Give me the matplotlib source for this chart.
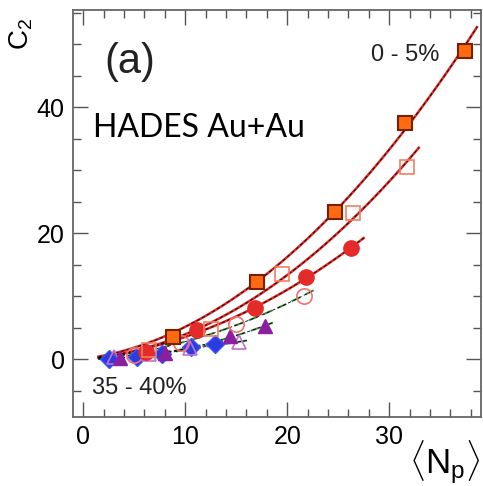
import numpy as np
import matplotlib
matplotlib.use('Agg')
import matplotlib.pyplot as plt
from matplotlib.ticker import MultipleLocator

plt.rcParams['font.family'] = ['Liberation Sans', 'DejaVu Sans']
plt.rcParams['mathtext.fontset'] = 'custom'
plt.rcParams['mathtext.rm'] = 'Liberation Sans'
plt.rcParams['mathtext.it'] = 'Liberation Sans'

# data: <Np> and C2 for each set
sq_x = [8.8, 17.0, 24.7, 31.5, 37.4]
sq_y = [3.5, 12.2, 23.4, 37.5, 49.0]
osq_x = [6.5, 12.5, 19.5, 26.4, 31.7]
osq_y = [1.4, 4.8, 13.5, 23.2, 30.5]
ci_x = [6.2, 11.2, 16.8, 21.8, 26.3]
ci_y = [1.1, 4.6, 8.1, 13.0, 17.6]
oci_x = [5.0, 9.6, 15.0, 21.6]
oci_y = [0.7, 2.6, 5.6, 10.0]
tri_x = [3.6, 8.0, 14.4, 17.8]
tri_y = [0.1, 1.0, 3.6, 5.2]
otri_x = [3.0, 6.5, 10.5, 15.3]
otri_y = [0.3, 0.8, 1.8, 2.7]
dia_x = [2.5, 5.3, 7.7, 10.6, 12.9]
dia_y = [0.0, 0.3, 0.8, 1.9, 2.4]

fig = plt.figure(figsize=(4.83, 4.86), dpi=100)
ax = fig.add_axes([0.151, 0.142, 0.845, 0.837])


def fit_line(x, y, ext, color):
    # fit C2 = a*N + b*N^2 and draw it a bit past the last point
    x = np.asarray(x)
    y = np.asarray(y)
    A = np.vstack([x, x**2]).T
    coef = np.linalg.lstsq(A, y, rcond=None)[0]
    xx = np.linspace(1.5, x.max() + ext, 100)
    yy = coef[0]*xx + coef[1]*xx**2
    if color == 'green':
        ax.plot(xx, yy, color='#3a8a3a', lw=1.4, ls=(0, (5, 3)), zorder=2)
    else:
        ax.plot(xx, yy, color='#e02525', lw=1.8, zorder=2)
    ax.plot(xx, yy, color='black', lw=0.6, ls=(0, (4, 3)), zorder=3)


fit_line(sq_x, sq_y, 1.2, 'red')
fit_line(osq_x, osq_y, 1.2, 'red')
fit_line(ci_x, ci_y, 1.2, 'red')
fit_line(oci_x, oci_y, 1.0, 'green')
fit_line(tri_x, tri_y, 0.8, 'green')
fit_line(otri_x, otri_y, 0.8, 'green')
fit_line(dia_x, dia_y, 0.8, 'green')

ax.plot(dia_x, dia_y, 'D', ms=9, color='#2a3be0', mec='#4050ff', zorder=5)
ax.plot(otri_x, otri_y, '^', ms=10, mfc='none', mec='#c070d0', mew=1.2, zorder=5)
ax.plot(tri_x, tri_y, '^', ms=10, color='#8c1fa0', zorder=5)
ax.plot(oci_x, oci_y, 'o', ms=11, mfc='none', mec='#f07070', mew=1.2, zorder=5)
ax.plot(ci_x, ci_y, 'o', ms=11, color='#e52a2a', zorder=5)
ax.plot(osq_x, osq_y, 's', ms=10, mfc='none', mec='#f08060', mew=1.2, zorder=5)
ax.plot(sq_x, sq_y, 's', ms=10, mfc='#ff6a10', mec='#7a2000', mew=1.5, zorder=6)

ax.set_xlim(-1, 39)
ax.set_ylim(-9.2, 55.4)
ax.xaxis.set_major_locator(MultipleLocator(10))
ax.xaxis.set_minor_locator(MultipleLocator(2))
ax.yaxis.set_major_locator(MultipleLocator(20))
ax.yaxis.set_minor_locator(MultipleLocator(5))
ax.tick_params(which='both', direction='in', top=True, right=True,
               labelsize=18, color='#555555')
ax.tick_params(which='major', length=11, width=1.0, pad=6)
ax.tick_params(which='minor', length=6, width=1.0)
for s in ax.spines.values():
    s.set_color('#666666')
    s.set_linewidth(1.3)

ax.text(0.078, 0.872, '(a)', transform=ax.transAxes, fontsize=30,
        va='center', ha='left', color='#222222')
ax.text(0.048, 0.71, 'HADES Au+Au', transform=ax.transAxes, fontsize=23,
        family=['Lato', 'DejaVu Sans'], va='center', ha='left')
ax.text(0.73, 0.89, '0 - 5%', transform=ax.transAxes, fontsize=17,
        va='center', ha='left', color='#222222')
ax.text(0.047, 0.071, '35 - 40%', transform=ax.transAxes, fontsize=17,
        va='center', ha='left', color='#222222')

fig.text(0.045, 0.93, r'C$_2$', fontsize=20, rotation=90, ha='center',
         va='center')
fig.text(0.995, 0.05, r'$\langle$N$_{\rm p}\rangle$', fontsize=25,
         ha='right', va='center')

fig.savefig('out.png', dpi=100)
